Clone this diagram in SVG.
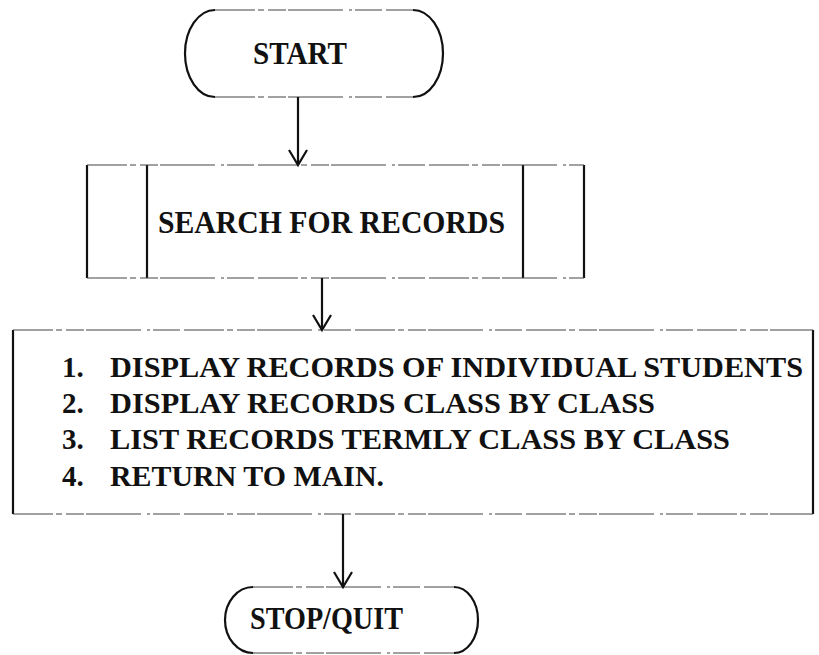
<svg xmlns="http://www.w3.org/2000/svg" width="819" height="655" viewBox="0 0 819 655">
  <style>
    .bg { fill: #ffffff; }
    .side { fill: none; stroke: #111; stroke-width: 2.2; }
    .edge { fill: none; stroke: #444; stroke-width: 1.1; stroke-dasharray: 40 3 6 4 18 2 55 6 3 3 27 4; }
    .lbl { font-family: "Liberation Serif", "Times New Roman", serif; fill: #111; font-size: 31px; font-weight: bold; }
    .item { font-size: 29px; }
    .wire { fill: none; stroke: #111; stroke-width: 2.2; }
  </style>
  <defs>
    <marker id="vee" markerUnits="userSpaceOnUse" markerWidth="20" markerHeight="22" refX="17" refY="11" orient="auto" viewBox="0 0 20 22">
      <path d="M2,2 L17,11 L2,20" fill="none" stroke="#111" stroke-width="2.2"/>
    </marker>
  </defs>
  <rect class="bg" x="0" y="0" width="819" height="655"/>

  <!-- Start terminal -->
  <g id="start">
    <path class="side" d="M215,10 A30,43.5 0 0 0 215,97"/>
    <path class="side" d="M413,10 A30,43.5 0 0 1 413,97"/>
    <line class="edge" x1="215" y1="10" x2="413" y2="10"/>
    <line class="edge" x1="215" y1="97" x2="413" y2="97"/>
    <text class="lbl" x="253" y="64" textLength="94" lengthAdjust="spacingAndGlyphs">START</text>
  </g>

  <!-- Predefined process: search -->
  <g id="search">
    <line class="side" x1="87" y1="165" x2="87" y2="278"/>
    <line class="side" x1="147" y1="165" x2="147" y2="278"/>
    <line class="side" x1="523" y1="165" x2="523" y2="278"/>
    <line class="side" x1="584" y1="165" x2="584" y2="278"/>
    <line class="edge" x1="87" y1="165" x2="584" y2="165"/>
    <line class="edge" x1="87" y1="278" x2="584" y2="278"/>
    <text class="lbl" x="158" y="233" textLength="347" lengthAdjust="spacingAndGlyphs">SEARCH FOR RECORDS</text>
  </g>

  <!-- Menu options -->
  <g id="menu">
    <line class="side" x1="13" y1="330" x2="13" y2="514"/>
    <line class="side" x1="813" y1="330" x2="813" y2="514"/>
    <line class="edge" x1="13" y1="330" x2="813" y2="330"/>
    <line class="edge" x1="13" y1="514" x2="813" y2="514"/>
    <text class="lbl item" x="62" y="377">1.</text>
    <text class="lbl item" x="110" y="377" textLength="693" lengthAdjust="spacingAndGlyphs">DISPLAY RECORDS OF INDIVIDUAL STUDENTS</text>
    <text class="lbl item" x="62" y="413">2.</text>
    <text class="lbl item" x="110" y="413" textLength="545" lengthAdjust="spacingAndGlyphs">DISPLAY RECORDS CLASS BY CLASS</text>
    <text class="lbl item" x="62" y="449">3.</text>
    <text class="lbl item" x="110" y="449" textLength="620" lengthAdjust="spacingAndGlyphs">LIST RECORDS TERMLY CLASS BY CLASS</text>
    <text class="lbl item" x="62" y="486">4.</text>
    <text class="lbl item" x="110" y="486" textLength="274" lengthAdjust="spacingAndGlyphs">RETURN TO MAIN.</text>
  </g>

  <!-- Stop terminal -->
  <g id="stop">
    <path class="side" d="M253,587 A28,33 0 0 0 253,653"/>
    <path class="side" d="M454,587 A24,33 0 0 1 454,653"/>
    <line class="edge" x1="253" y1="587" x2="454" y2="587"/>
    <line class="edge" x1="253" y1="653" x2="454" y2="653"/>
    <text class="lbl" x="250" y="629" textLength="153" lengthAdjust="spacingAndGlyphs">STOP/QUIT</text>
  </g>

  <!-- Flow lines -->
  <g id="connectors">
    <line class="wire" x1="298" y1="97" x2="298" y2="165" marker-end="url(#vee)"/>
    <line class="wire" x1="322" y1="278" x2="322" y2="330" marker-end="url(#vee)"/>
    <line class="wire" x1="343" y1="514" x2="343" y2="587" marker-end="url(#vee)"/>
  </g>
</svg>
